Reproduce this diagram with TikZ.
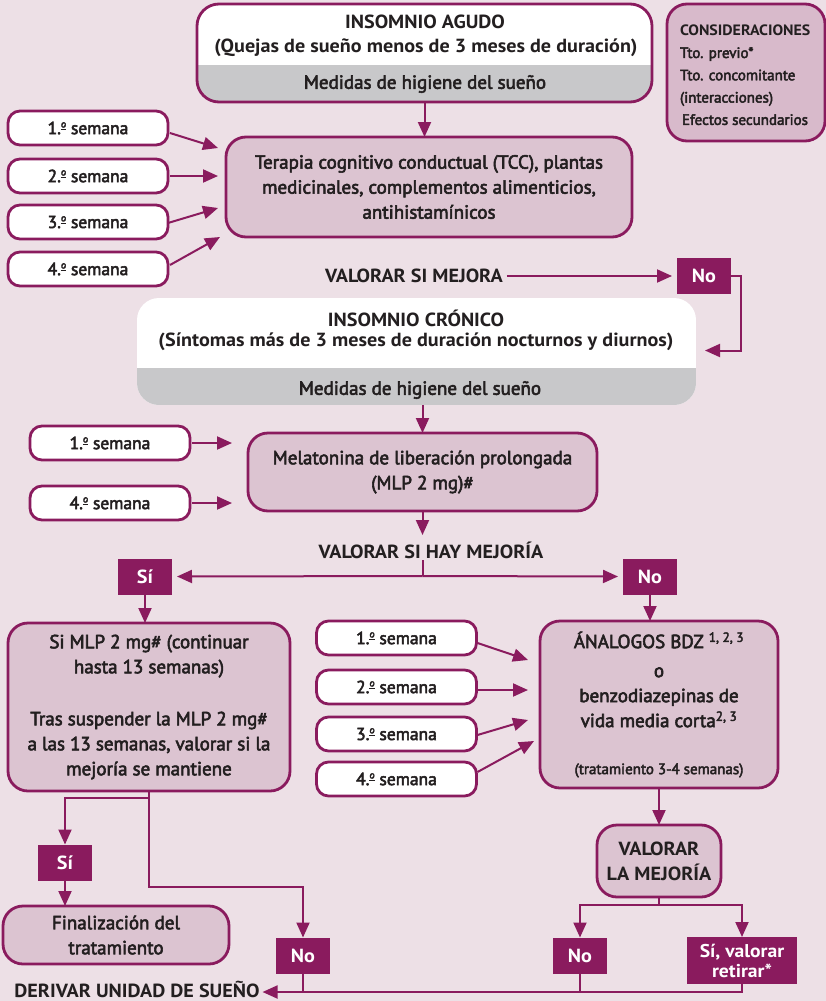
\documentclass[tikz,border=0pt]{standalone}
\usepackage{fontspec}
\setmainfont{PT Sans}[BoldFeatures={FakeStretch=1.06}]
\newfontfamily\medfont{PT Sans}[FakeBold=3]
\usetikzlibrary{arrows.meta,calc}
\definecolor{bg}{HTML}{EDE0E6}
\definecolor{pur}{HTML}{8A1B5E}
\definecolor{pk}{HTML}{DCC4D1}
\definecolor{pk2}{HTML}{D8BACB}
\definecolor{gr}{HTML}{C8C8CA}
\definecolor{tx}{HTML}{231F20}
\newcommand{\ordm}{\raisebox{0.38em}{\fontsize{10}{10}\selectfont\underline{o}}}
\begin{document}
\begin{tikzpicture}[x=1pt,y=-1pt,
  every node/.style={text=tx, inner sep=0pt, outer sep=0pt},
  arr/.style={draw=pur, line width=2pt, -{Triangle[length=15pt,width=13pt]}},
  ln/.style={draw=pur, line width=2pt},
  btxt/.style={font=\medfont\fontsize{19}{25}\selectfont, align=center},
  hdr/.style={font=\bfseries\fontsize{19}{25}\selectfont, align=center},
  pbox/.style={draw=pur, line width=2.8pt, fill=pk, rounded corners=20pt, btxt},
  wk/.style={draw=pur, line width=2.8pt, fill=white, rounded corners=12pt, minimum width=160pt, minimum height=34pt, font=\medfont\fontsize{17.5}{18}\selectfont},
  tag/.style={fill=pur, text=white, font=\bfseries\fontsize{19}{20}\selectfont, minimum width=54pt, minimum height=36pt, align=center},
]
\fill[bg] (0,0) rectangle (826,1001);
\useasboundingbox (0,0) rectangle (826,1001);

% --- Insomnio agudo
\node[minimum width=455pt, minimum height=98pt] (agudo) at (424.5,53) {};
\coordinate (ag65) at (0,65);
\begin{scope}
\clip[rounded corners=22pt] (agudo.north west) rectangle (agudo.south east);
\fill[white] (agudo.north west) rectangle (agudo.south east);
\fill[gr] (agudo.west |- ag65) rectangle (agudo.south east);
\end{scope}
\draw[pur, line width=2.8pt, rounded corners=22pt] (agudo.north west) rectangle (agudo.south east);
\node[hdr] (agT) at (425,22) {INSOMNIO AGUDO};
\node[hdr] (agS) at (426,48) {(Quejas de sueño menos de 3 meses de duración)};
\node[btxt] (agM) at (425,84) {Medidas de higiene del sueño};

% --- Consideraciones
\node[draw=pur, line width=2.8pt, fill=pk2, rounded corners=20pt, minimum width=158pt, minimum height=137pt] (cons) at (746,72.5) {};
\node[anchor=west, align=left, font=\medfont\fontsize{15}{22.3}\selectfont] (consT) at (680,75) {{\normalfont\bfseries CONSIDERACIONES}\\Tto. previo*\\Tto. concomitante\\(interacciones)\\\hspace{2pt}Efectos secundarios};

% --- TCC
\node[pbox, minimum width=406pt, minimum height=100pt] (tcc) at (429,187) {Terapia cognitivo conductual (TCC), plantas\\medicinales, complementos alimenticios,\\antihistamínicos};
\draw[arr] (agudo.south) -- (agudo.south |- tcc.north);

\node[wk] (w1) at (88,128) {1.\ordm\ semana};
\node[wk] (w2) at (88,176) {2.\ordm\ semana};
\node[wk] (w3) at (88,222) {3.\ordm\ semana};
\node[wk] (w4) at (88,269) {4.\ordm\ semana};
\draw[arr] ($(w1.east)+(2,5)$) -- ($(tcc.west)+(-8,-39)$);
\draw[arr] ($(w2.east)+(2,0)$) -- ($(tcc.west)+(-8,-11)$);
\draw[arr] ($(w3.east)+(0,1)$) -- ($(tcc.west)+(-8,21)$);
\draw[arr] ($(w4.east)+(2,-4)$) -- ($(tcc.west)+(-6,50)$);

% --- Valorar si mejora
\node[hdr] (vm) at (414,276) {VALORAR SI MEJORA};
\node[tag] (no1) at (704,276) {No};
\draw[arr] ([xshift=4pt]vm.east) -- ([xshift=-5pt]no1.west);

% --- Insomnio cronico
\node[minimum width=559pt, minimum height=107pt] (cron) at (416.5,351.5) {};
\coordinate (cr368) at (0,368);
\begin{scope}
\clip[rounded corners=22pt] (cron.north west) rectangle (cron.south east);
\fill[white] (cron.north west) rectangle (cron.south east);
\fill[gr] (cron.west |- cr368) rectangle (cron.south east);
\end{scope}
\node[hdr] (crT) at (416,318) {INSOMNIO CRÓNICO};
\node[hdr] (crS) at (416,342) {(Síntomas más de 3 meses de duración nocturnos y diurnos)};
\node[btxt] (crM) at (420,390) {Medidas de higiene del sueño};
\draw[arr] (no1.east) -- ++(10,0) |- ($(cron.east)+(9,-1)$);

% --- Melatonina
\node[pbox, minimum width=349pt, minimum height=78pt] (mel) at (422.5,472) {Melatonina de liberación prolongada\\(MLP 2 mg)\#};
\draw[arr] (mel.north |- cron.south) -- (mel.north);
\node[wk] (m1) at (110,443) {1.\ordm\ semana};
\node[wk] (m4) at (110,503) {4.\ordm\ semana};
\draw[arr] ($(m1.east)+(2,0)$) -- ($(mel.west)+(-16,-29)$);
\draw[arr] ($(m4.east)+(2,0)$) -- ($(mel.west)+(-16,31)$);

% --- Valorar si hay mejoria
\node[hdr] (vhm) at (431,550) {VALORAR SI HAY MEJORÍA};
\draw[arr] (mel.south) -- ++(0,24);
\coordinate (sp) at (422.5,576);
\draw[ln] ($(sp)+(0,-16)$) -- (sp);
\node[tag] (si1) at (145,576.5) {Sí};
\node[tag] (no2) at (650,576.5) {No};
\draw[arr] (sp) -- ([xshift=-5pt]no2.west);
\draw[arr] (sp) -- ([xshift=5pt]si1.east);

% --- MLP box
\node[pbox, minimum width=282pt, minimum height=168pt] (mlp) at (149,707) {Si MLP 2 mg\# (continuar\\hasta 13 semanas)\\[27pt]Tras suspender la MLP 2 mg\#\\a las 13 semanas, valorar si la\\mejoría se mantiene};
\draw[arr] (si1.south) -- (si1.south |- mlp.north);

% --- Analogos
\node[pbox, minimum width=238pt, minimum height=167pt] (ana) at (659,704.5) {ÁNALOGOS BDZ \textsuperscript{1, 2, 3}\\[4pt]o\\benzodiazepinas de\\vida media corta\textsuperscript{2, 3}\\[22pt]{\fontsize{15}{16}\selectfont(tratamiento 3-4 semanas)}};
\draw[arr] (no2.south) -- (no2.south |- ana.north);
\node[wk] (c1) at (396.5,638) {1.\ordm\ semana};
\node[wk] (c2) at (396.5,687) {2.\ordm\ semana};
\node[wk] (c3) at (396.5,734) {3.\ordm\ semana};
\node[wk] (c4) at (396.5,779) {4.\ordm\ semana};
\draw[arr] ($(c1.east)+(1,5)$) -- ($(ana.west)+(-12,-44.5)$);
\draw[arr] ($(c2.east)+(1,3)$) -- ($(ana.west)+(-12,-14.5)$);
\draw[arr] ($(c3.east)+(1,1)$) -- ($(ana.west)+(-12,15.5)$);
\draw[arr] ($(c4.east)+(1,-7)$) -- ($(ana.west)+(-6,36.5)$);

% --- Valorar la mejoria
\node[pbox, font=\bfseries\fontsize{19}{25}\selectfont, minimum width=124pt, minimum height=72pt] (vlm) at (659,861) {VALORAR\\LA MEJORÍA};
\draw[arr] (ana.south) -- (vlm.north);
\coordinate (sp2) at (659,905);
\node[tag] (no3) at (580,955.5) {No};
\node[tag, minimum width=110pt, minimum height=47pt, font=\bfseries\fontsize{18.5}{20}\selectfont] (si3) at (742,960.5) {Sí, valorar\\retirar*};
\draw[ln] (vlm.south) -- (sp2);
\draw[arr] (sp2) -| (no3.north);
\draw[arr] (sp2) -| (si3.north);

% --- Left branch
\node[tag] (si2) at (65,862.5) {Sí};
\node[pbox, minimum width=226pt, minimum height=58pt] (fin) at (116,935) {Finalización del\\tratamiento};
\node[tag] (no4) at (303,955.5) {No};
\draw[arr] (mlp.south) -- ++(0,7) -| (si2.north);
\draw[arr] (si2.south) -- (si2.south |- fin.north);
\draw[arr] (mlp.south) |- ($(no4.north)+(0,-51)$) -- (no4.north);

% --- Derivar
\node[hdr] (der) at (137,989) {DERIVAR UNIDAD DE SUEÑO};
\coordinate (bot) at (0,992);
\coordinate (derE) at ($(der.east)+(3,0)$);
\draw[arr] (si3.south) |- (derE |- bot);
\draw[ln] (no3.south) -- (no3.south |- bot);
\draw[ln] (no4.south) -- (no4.south |- bot);
\end{tikzpicture}
\end{document}
